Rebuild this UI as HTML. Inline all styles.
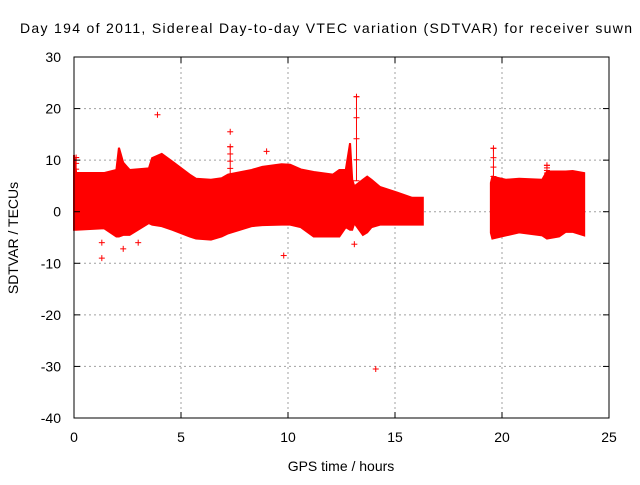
<!DOCTYPE html>
<html><head><meta charset="utf-8"><style>
body{margin:0;background:#fff;font-family:"Liberation Sans",sans-serif}
</style></head><body>
<svg id="c" width="640" height="480" xmlns="http://www.w3.org/2000/svg" font-family="Liberation Sans, sans-serif" font-size="13">
<rect width="640" height="480" fill="#fff"/>
<g id="grid"></g><g id="data"></g><g id="axes"></g>
<text x="20" y="33" font-size="14" textLength="612" lengthAdjust="spacing">Day 194 of 2011, Sidereal Day-to-day VTEC variation (SDTVAR) for receiver suwn</text>
<text x="341" y="471" text-anchor="middle" font-size="14">GPS time / hours</text>
<text transform="translate(18,238) rotate(-90)" text-anchor="middle" font-size="14">SDTVAR / TECUs</text>
</svg>
<script>
const xTicks=[0,5,10,15,20,25];
const yTicks=[30,20,10,0,-10,-20,-30,-40];
const seg1Hours=[0,0.1,1.4,1.98,2.1,2.3,2.6,3.5,3.65,4.1,4.6,5.4,5.7,6.4,6.9,7.2,8.3,8.8,9.7,10.1,10.6,11.2,12.1,12.4,12.7,12.9,13.0,13.1,13.5,13.7,13.9,14.3,15.1,15.8,16.3];
const seg1Upper=[11,7.5,7.5,8.1,12.4,9.5,8.1,8.4,10.4,11.2,9.7,7.2,6.4,6.2,6.5,7.2,8.1,8.7,9.2,9.1,8.2,7.7,7.2,8.1,8.1,13.3,6.2,4.9,6.2,6.8,6.2,4.8,3.7,2.7,2.7];
const seg1Lower=[-3.5,-3.5,-3.2,-4.8,-4.8,-4.5,-4.5,-2.2,-2.5,-2.8,-3.5,-4.8,-5.2,-5.4,-4.8,-4.2,-2.8,-2.6,-2.5,-2.5,-3.0,-4.8,-4.8,-4.8,-3.0,-3.5,-3.5,-2.2,-4.5,-4.0,-3.0,-2.5,-2.5,-2.5,-2.5];
const seg2Hours=[19.48,19.55,20.18,20.8,21.88,22.1,22.67,22.98,23.3,23.84];
const seg2Upper=[5.6,6.8,6.2,6.4,6.2,7.8,7.8,7.8,7.9,7.5];
const seg2Lower=[-4.1,-5.2,-4.6,-4.0,-4.6,-5.2,-4.8,-3.9,-3.9,-4.6];
const ptHours=[3.9,7.3,9.0,14.1,9.8,1.3,2.3,3.0,13.1,13.2,7.3,19.6,22.1,1.3,0.1];
const ptValues=[18.8,15.5,11.7,-30.5,-8.5,-9,-7.2,-6,-6.3,22.3,12.6,12.3,9,-6,10.5];
const ptLow=[18.8,15.5,11.7,-30.5,-8.5,-9,-7.2,-6,-6.3,6,7,5,7,-3,6];
const ptHigh=[18.8,15.5,11.7,-30.5,-8.5,-9,-7.2,-6,-6.3,22.3,12.6,12.3,9,-3,10.5];
const X0=74,X1=609,Y0=418,Y1=57;
const sx=h=>X0+(h-0)/25*(X1-X0);
const sy=v=>Y0-(v+40)/70*(Y0-Y1);
const NS="http://www.w3.org/2000/svg";
function mk(p,t,a){const e=document.createElementNS(NS,t);for(const k in a)e.setAttribute(k,a[k]);p.appendChild(e);return e;}
const grid=document.getElementById('grid'),axes=document.getElementById('axes'),data=document.getElementById('data');
xTicks.forEach(t=>{const x=sx(t);
 if(t>0&&t<25){const g=mk(grid,'line',{x1:x,x2:x,y1:Y1,y2:Y0,stroke:'#a0a0a0','stroke-dasharray':'2,3'});}
 mk(axes,'line',{x1:x,x2:x,y1:Y0,y2:Y0-6,stroke:'#000'});mk(axes,'line',{x1:x,x2:x,y1:Y1,y2:Y1+6,stroke:'#000'});
 const tx=mk(axes,'text',{x:x,y:442,'text-anchor':'middle','font-size':14});tx.textContent=t;
 });
yTicks.forEach(t=>{const y=sy(t);
 if(t<30&&t>-40){const g=mk(grid,'line',{x1:X0,x2:X1,y1:y,y2:y,stroke:'#a0a0a0','stroke-dasharray':'2,3'});}
 mk(axes,'line',{x1:X0,x2:X0+6,y1:y,y2:y,stroke:'#000'});mk(axes,'line',{x1:X1,x2:X1-6,y1:y,y2:y,stroke:'#000'});
 const tx=mk(axes,'text',{x:61,y:y+5,'text-anchor':'end','font-size':14});tx.textContent=t;
 });
const fr=mk(axes,'rect',{x:X0,y:Y1,width:X1-X0,height:Y0-Y1,fill:'none',stroke:'#000'});

function band(H,U,L,name){let d='M'+H.map((h,i)=>sx(h)+','+sy(U[i])).join(' L');
 for(let i=H.length-1;i>=0;i--)d+=' L'+sx(H[i])+','+sy(L[i]);
 const p=mk(data,'path',{d:d+'Z',fill:'#f00',stroke:'#f00','stroke-width':2});
 }
band(seg1Hours,seg1Upper,seg1Lower,'data-band-1');
band(seg2Hours,seg2Upper,seg2Lower,'data-band-2');
ptHours.forEach((h,i)=>{const x=sx(h),y=sy(ptValues[i]);
 const g=mk(data,'g',{stroke:'#f00','stroke-width':1});
 
 mk(g,'line',{x1:x-3,x2:x+3,y1:y,y2:y});mk(g,'line',{x1:x,x2:x,y1:y-3,y2:y+3});
 const yl=sy(ptLow[i]),yh=sy(ptHigh[i]);
 if(ptLow[i]!==ptHigh[i]){mk(g,'line',{x1:x,x2:x,y1:yl,y2:yh});
  for(let k=0;k<=4;k++){const yy=yh+(yl-yh)*k/4;mk(g,'line',{x1:x-3,x2:x+3,y1:yy,y2:yy});}}
});
</script>
</body></html>
